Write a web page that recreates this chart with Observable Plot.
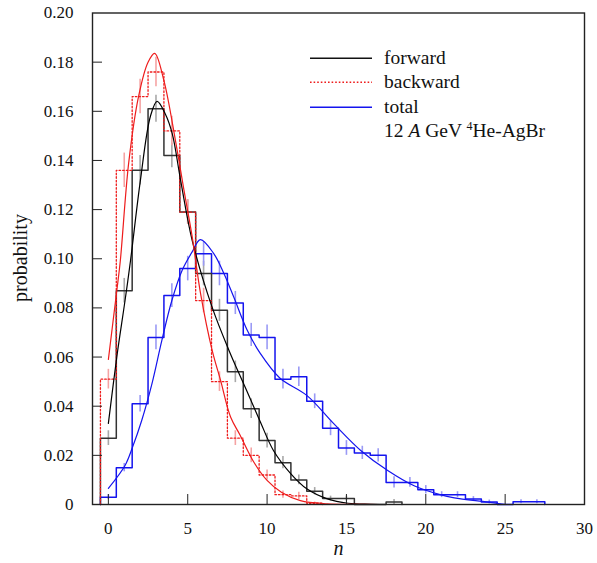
<!DOCTYPE html>
<html><head><meta charset="utf-8">
<script src="https://cdn.jsdelivr.net/npm/d3@7"></script>
<script src="https://cdn.jsdelivr.net/npm/@observablehq/plot@0.6"></script>
<style>
body{margin:0;background:#fff;}
#wrap{position:relative;width:597px;height:563px;font-family:"Liberation Serif","Times New Roman",serif;color:#111;}
#wrap svg text{font-family:"Liberation Serif","Times New Roman",serif !important;}
#legend{position:absolute;left:310px;top:45.5px;font-size:19.5px;line-height:24.5px;}
.row{display:flex;align-items:center;height:24.5px;white-space:nowrap;}
.row svg{width:62px;height:24.5px;margin-right:12px;flex:none;}
.row .sp{width:74px;flex:none;}
sup{font-size:12px;vertical-align:7px;line-height:0;}
#ylab{position:absolute;left:20px;top:258px;font-size:20px;transform:translate(-50%,-50%) rotate(-90deg);white-space:nowrap;}
</style></head><body>
<div id="wrap"></div>
<script>
// Multiplicity histograms (bins centred on n = 0,1,2,...)
const forwardProb  = [0.027, 0.087, 0.136, 0.161, 0.142, 0.119, 0.094, 0.079, 0.054, 0.039, 0.026, 0.017, 0.010, 0.0054, 0.0024, 0.0024, 0, 0, 0.001];
const forwardErr   = [0.003, 0.005, 0.006, 0.0055, 0.005, 0.005, 0.005, 0.0045, 0.0044, 0.004, 0.003, 0.0025, 0.002, 0.0015, 0.001, 0.001, 0, 0, 0.001];
const backwardProb = [0.051, 0.136, 0.166, 0.176, 0.152, 0.119, 0.083, 0.050, 0.027, 0.020, 0.012, 0.004, 0.0035, 0.0005];
const backwardErr  = [0.004, 0.007, 0.007, 0.006, 0.006, 0.005, 0.005, 0.004, 0.003, 0.003, 0.002, 0.0015, 0.0015, 0.0005];
const totalProb    = [0.003, 0.015, 0.041, 0.068, 0.085, 0.096, 0.102, 0.094, 0.082, 0.069, 0.068, 0.051, 0.052, 0.042, 0.031, 0.023, 0.021, 0.020, 0.009, 0.009, 0.006, 0.004, 0.004, 0.0022, 0.001, 0, 0.0011, 0.0011];
const totalErr     = [0.001, 0.0017, 0.0034, 0.005, 0.0048, 0.005, 0.005, 0.005, 0.0047, 0.0047, 0.005, 0.004, 0.004, 0.003, 0.003, 0.003, 0.0027, 0.0027, 0.0023, 0.002, 0.0017, 0.0012, 0.0012, 0.001, 0.0008, 0, 0.0008, 0.0008];

// Fitted curves
const forwardFitX  = [0, 0.53, 1.05, 1.39, 2.02, 2.65, 3.07, 3.58, 4.02, 4.55, 5.28, 6.53, 7.6, 8.6, 9.55, 10.4, 11.5, 12.5, 13.8, 15.1, 16.5, 18];
const forwardFitY  = [0.033, 0.060, 0.083, 0.099, 0.132, 0.158, 0.164, 0.159, 0.151, 0.132, 0.1075, 0.0804, 0.0627, 0.048, 0.034, 0.022, 0.0125, 0.0064, 0.0023, 0.0005, 0.0001, 0];
const backwardFitX = [0, 0.53, 0.75, 1.28, 1.9, 2.5, 2.92, 3.5, 4.23, 4.76, 5.28, 5.81, 6.54, 7.07, 7.7, 8.31, 9.17, 10.0, 10.9, 12.1, 13.8, 15.5, 17];
const backwardFitY = [0.059, 0.087, 0.099, 0.139, 0.166, 0.180, 0.1836, 0.1725, 0.148, 0.128, 0.109, 0.0858, 0.0627, 0.0505, 0.0356, 0.0281, 0.0172, 0.0098, 0.005, 0.0016, 0.0003, 0.00005, 0];
const totalFitX    = [0, 1.05, 1.52, 2.1, 2.74, 3.37, 4.0, 4.65, 5.28, 5.8, 6.65, 7.28, 7.9, 8.75, 9.58, 10.8, 12.5, 14.2, 15.9, 17.6, 19.3, 20.9, 21.8, 23.9, 25];
const totalFitY    = [0.0066, 0.0159, 0.0233, 0.0342, 0.049, 0.0668, 0.083, 0.0953, 0.1028, 0.1078, 0.102, 0.094, 0.0844, 0.0709, 0.0614, 0.0515, 0.0444, 0.0329, 0.022, 0.0138, 0.0075, 0.004, 0.0027, 0.001, 0];

const xTicks = [0, 5, 10, 15, 20, 25, 30];
const yTicks = [0, 0.02, 0.04, 0.06, 0.08, 0.10, 0.12, 0.14, 0.16, 0.18, 0.20];
const legendLabels = ["forward", "backward", "total"];
const xLabel = "n";
const yLabel = "probability";

const colors = {forward: "#111", backward: "#ee1c1c", total: "#1414ee"};
const errColors = {forward: "#a8a8a8", backward: "#f5a3a3", total: "#9a9af5"};

function steps(vals) {
  const pts = [{x: -0.5, y: 0}];
  vals.forEach((v, i) => { pts.push({x: i - 0.5, y: v}); pts.push({x: i + 0.5, y: v}); });
  pts.push({x: vals.length - 0.5, y: 0});
  return pts;
}
function errs(vals, e) {
  return vals.map((v, i) => ({x: i, y1: v - e[i], y2: v + e[i], e: e[i]})).filter(d => d.e > 0);
}
function fit(xs, ys) { return xs.map((x, i) => ({x, y: ys[i]})); }

const chart = Plot.plot({
  width: 597, height: 563,
  marginLeft: 92, marginRight: 13, marginTop: 12.5, marginBottom: 59,
  x: {domain: [-1, 30]},
  y: {domain: [0, 0.2]},
  style: 'font-family: "Liberation Serif", "Times New Roman", serif; font-size: 17px; color: #111; background: white;',
  marks: [
    Plot.ruleX(errs(forwardProb, forwardErr), {x: "x", y1: "y1", y2: "y2", stroke: errColors.forward, strokeWidth: 1.6}),
    Plot.ruleX(errs(backwardProb, backwardErr), {x: "x", y1: "y1", y2: "y2", stroke: errColors.backward, strokeWidth: 1.6}),
    Plot.ruleX(errs(totalProb, totalErr), {x: "x", y1: "y1", y2: "y2", stroke: errColors.total, strokeWidth: 1.6}),
    Plot.line(steps(totalProb), {x: "x", y: "y", stroke: colors.total, strokeWidth: 1.5}),
    Plot.line(steps(forwardProb), {x: "x", y: "y", stroke: "#333", strokeWidth: 1.5}),
    Plot.line(steps(backwardProb), {x: "x", y: "y", stroke: colors.backward, strokeWidth: 1.3, strokeDasharray: "1.6,2"}),
    Plot.line(fit(totalFitX, totalFitY), {x: "x", y: "y", stroke: colors.total, strokeWidth: 1.2, curve: "catmull-rom"}),
    Plot.line(fit(forwardFitX, forwardFitY), {x: "x", y: "y", stroke: "#000", strokeWidth: 1.2, curve: "catmull-rom"}),
    Plot.line(fit(backwardFitX, backwardFitY), {x: "x", y: "y", stroke: colors.backward, strokeWidth: 1.2, curve: "catmull-rom"}),
    Plot.frame({stroke: "#222", strokeWidth: 1.4}),
    Plot.axisX({ticks: xTicks, tickSize: 0, tickPadding: 17, label: null, tickFormat: d => String(d), fontSize: 17}),
    Plot.axisX({ticks: xTicks.filter(t => t < 30), tickSize: 10, dy: -10, text: null, label: null, stroke: "#222"}),
    Plot.axisY({ticks: yTicks, tickSize: 0, tickPadding: 19, label: null, fontSize: 17, tickFormat: d => d === 0 ? "0" : d.toFixed(2)}),
    Plot.axisY({ticks: yTicks.filter(t => t > 0 && t < 0.2), tickSize: 10, dx: 10, text: null, label: null, stroke: "#222"}),
    Plot.text([xLabel], {frameAnchor: "bottom", dy: 50, text: d => d, fontStyle: "italic", fontSize: 20})
  ]
});
const wrap = document.getElementById("wrap");
wrap.appendChild(chart);

const yl = document.createElement("div");
yl.id = "ylab";
yl.textContent = yLabel;
wrap.appendChild(yl);

// legend
const leg = document.createElement("div");
leg.id = "legend";
const dash = {forward: "", backward: "1.6,2", total: ""};
legendLabels.forEach(k => {
  const row = document.createElement("div");
  row.className = "row";
  row.innerHTML = `<svg viewBox="0 0 62 24.5"><line x1="0" x2="62" y1="12.25" y2="12.25" stroke="${colors[k]}" stroke-width="1.3" stroke-dasharray="${dash[k]}"/></svg><span>${k}</span>`;
  leg.appendChild(row);
});
const last = document.createElement("div");
last.className = "row";
last.innerHTML = `<span class="sp"></span><span>12 <i>A</i> GeV <sup>4</sup>He-AgBr</span>`;
leg.appendChild(last);
wrap.appendChild(leg);
</script>
</body></html>
